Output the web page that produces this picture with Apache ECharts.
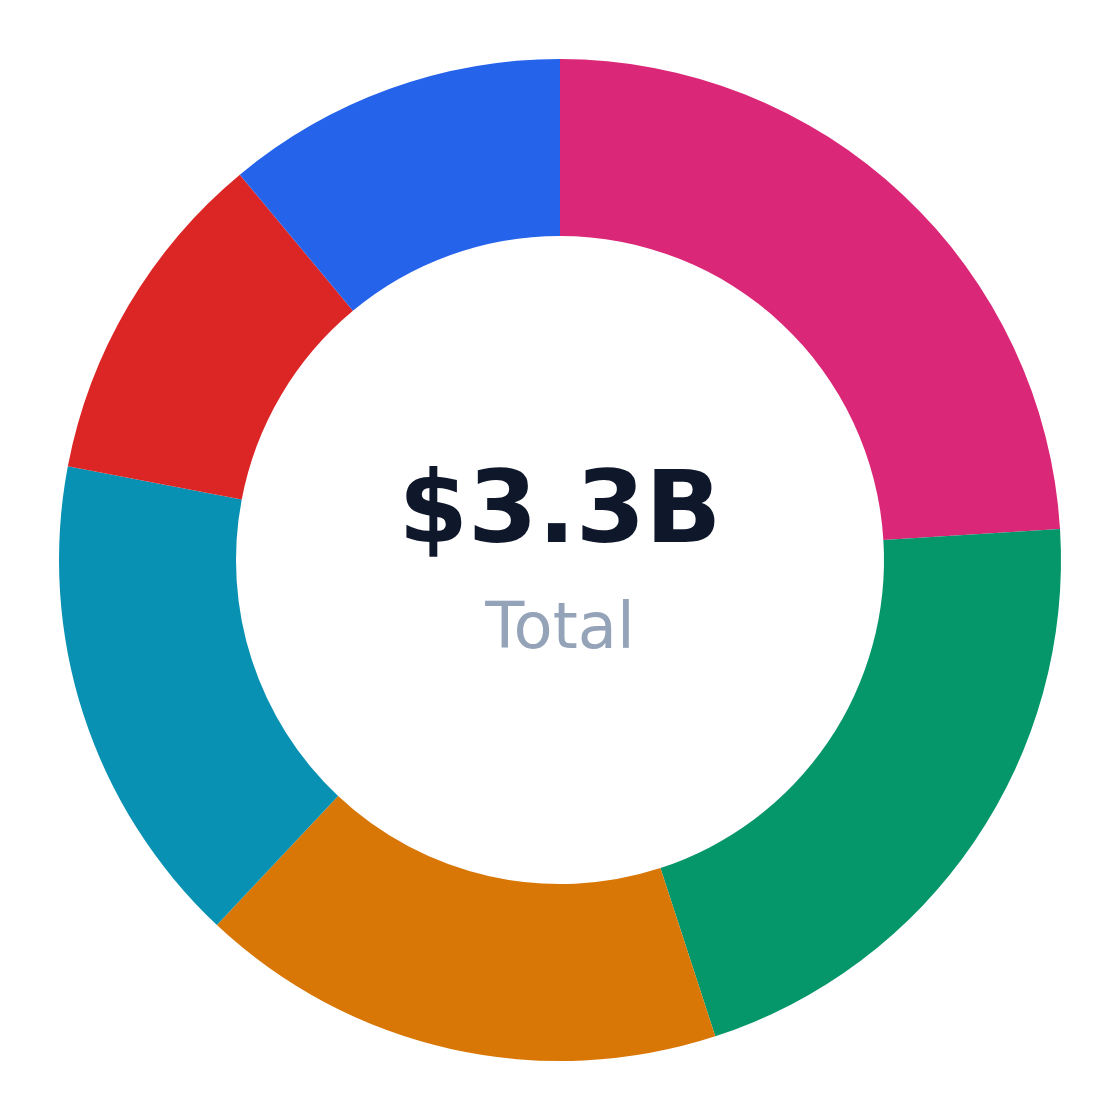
<!DOCTYPE html>
<html>
<head>
<meta charset="utf-8">
<script src="https://cdn.jsdelivr.net/npm/echarts@6/dist/echarts.min.js"></script>
<style>
  html, body { margin: 0; padding: 0; background: #ffffff; }
  #main { width: 1120px; height: 1120px; }
</style>
</head>
<body>
<div id="main"></div>
<script>
// segment names and values (millions USD), clockwise from top
var names = ['Segment A', 'Segment B', 'Segment C', 'Segment D', 'Segment E', 'Segment F'];
var values = [790, 690, 560, 526, 361, 363];
var colors = ['#db2777', '#059669', '#d97706', '#0891b2', '#dc2626', '#2563eb'];
var totalLabel = '$3.3B';
var subLabel = 'Total';

var chart = echarts.init(document.getElementById('main'));
chart.setOption({
    animation: false,
    color: colors,
    series: [
        {
            type: 'pie',
            center: [560, 560],
            radius: [324, 501],
            startAngle: 90,
            clockwise: true,
            label: { show: false },
            labelLine: { show: false },
            emphasis: { disabled: true },
            data: names.map(function (n, i) {
                return { name: n, value: values[i] };
            })
        }
    ],
    graphic: [
        {
            type: 'text',
            left: 'center',
            top: 466,
            style: {
                text: totalLabel,
                font: 'bold 100px "DejaVu Sans"',
                fill: '#0f172a'
            }
        },
        {
            type: 'text',
            left: 'center',
            top: 599,
            style: {
                text: subLabel,
                font: '64px "DejaVu Sans"',
                fill: '#94a3b8'
            }
        }
    ]
});
</script>
</body>
</html>
